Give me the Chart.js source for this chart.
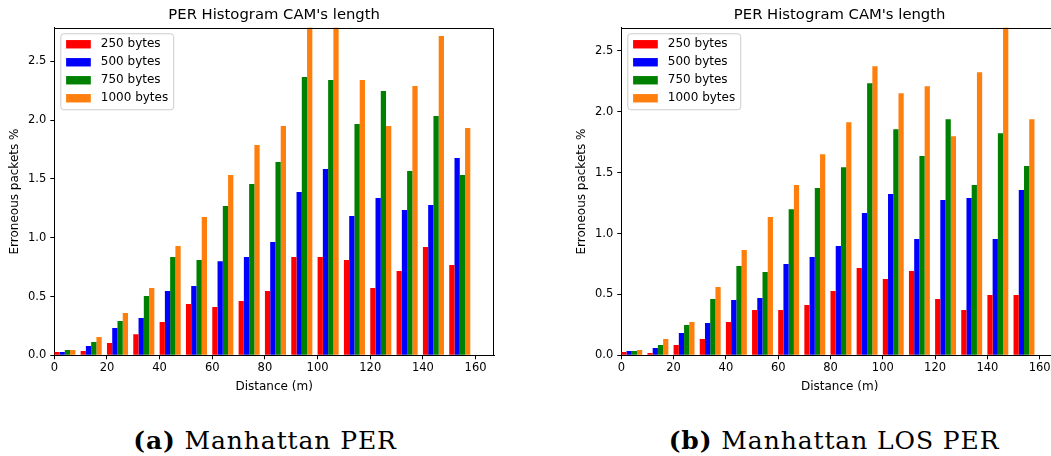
<!DOCTYPE html>
<html>
<head>
<meta charset="utf-8">
<title>PER Histogram CAM's length</title>
<script src="https://cdn.jsdelivr.net/npm/chart.js@4.4.1/dist/chart.umd.min.js"></script>
<style>
    html, body { margin: 0; padding: 0; background: #fff; }
    body { width: 1051px; height: 456px; overflow: hidden; position: relative; }
    canvas { position: absolute; top: 0; }
    #chartA { left: 0; }
    #chartB { left: 567px; }
    .caption {
        position: absolute; top: 426px; width: 500px; line-height: 30px;
        font-family: "DejaVu Serif", serif; font-size: 25px; letter-spacing: 0.9px;
        color: #000; text-align: center; white-space: nowrap;
    }
</style>
</head>
<body>
<canvas id="chartA" width="525" height="400"></canvas>
<canvas id="chartB" width="525" height="400"></canvas>
<div class="caption" style="left:15px"><b>(a)</b> Manhattan PER</div>
<div class="caption" style="left:584px"><b>(b)</b> Manhattan LOS PER</div>
<script>
// distance bins (m), 10 m wide
var distances = [0, 10, 20, 30, 40, 50, 60, 70, 80, 90, 100, 110, 120, 130, 140, 150];
var seriesLabels = ["250 bytes", "500 bytes", "750 bytes", "1000 bytes"];
var seriesColors = ["#ff0000", "#0000ff", "#008000", "#ff7f0e"];
var xTicks = [0, 20, 40, 60, 80, 100, 120, 140, 160];
var yTicks = [0, 0.5, 1.0, 1.5, 2.0, 2.5];

// (a) Manhattan PER
var per250 = [0.028, 0.037, 0.105, 0.18, 0.283, 0.437, 0.41, 0.462, 0.547, 0.836, 0.836, 0.81, 0.573, 0.717, 0.921, 0.768];
var per500 = [0.028, 0.079, 0.232, 0.317, 0.547, 0.59, 0.80, 0.836, 0.964, 1.389, 1.585, 1.185, 1.338, 1.236, 1.278, 1.678];
var per750 = [0.045, 0.113, 0.292, 0.505, 0.836, 0.81, 1.27, 1.457, 1.644, 2.367, 2.341, 1.967, 2.248, 1.567, 2.035, 1.533];
var per1000 = [0.045, 0.156, 0.36, 0.573, 0.93, 1.176, 1.533, 1.789, 1.95, 2.9, 2.95, 2.341, 1.95, 2.29, 2.715, 1.933];

// (b) Manhattan LOS PER
var los250 = [0.027, 0.019, 0.085, 0.134, 0.274, 0.372, 0.372, 0.413, 0.528, 0.717, 0.626, 0.692, 0.462, 0.372, 0.495, 0.495];
var los500 = [0.036, 0.06, 0.183, 0.265, 0.454, 0.47, 0.749, 0.807, 0.897, 1.168, 1.324, 0.955, 1.275, 1.291, 0.955, 1.357];
var los750 = [0.036, 0.085, 0.249, 0.462, 0.733, 0.684, 1.2, 1.373, 1.545, 2.235, 1.857, 1.636, 1.939, 1.398, 1.824, 1.554];
var los1000 = [0.044, 0.134, 0.274, 0.561, 0.864, 1.135, 1.398, 1.652, 1.915, 2.374, 2.153, 2.21, 1.8, 2.325, 2.8, 1.939];

var FONT = "'DejaVu Sans', sans-serif";
var binWidth = 10;

// legend box inside the plot + top/right spines, matplotlib style
var boxLegend = {
    id: "boxLegend",
    afterDatasetsDraw(chart) {
        var ctx = chart.ctx;
        var a = chart.chartArea;
        ctx.save();
        ctx.strokeStyle = "#000";
        ctx.lineWidth = 1;
        ctx.beginPath();
        ctx.moveTo(Math.round(a.left) + 0.5, Math.round(a.top) + 0.5);
        ctx.lineTo(Math.round(a.right) - 0.5, Math.round(a.top) + 0.5);
        ctx.lineTo(Math.round(a.right) - 0.5, Math.round(a.bottom));
        ctx.stroke();
        ctx.restore();
    },
    afterDraw(chart) {
        var ctx = chart.ctx;
        var a = chart.chartArea;
        var sets = chart.data.datasets;
        ctx.save();
        ctx.font = "12px " + FONT;
        var textW = 0;
        sets.forEach(function (ds) {
            textW = Math.max(textW, ctx.measureText(ds.label).width);
        });
        var x = a.left + 6.5;
        var y = a.top + 6;
        var w = 40 + textW + 5.5;
        var h = 76;
        ctx.beginPath();
        ctx.roundRect(x, y, w, h, 3);
        ctx.fillStyle = "rgba(255,255,255,0.8)";
        ctx.fill();
        ctx.strokeStyle = "#cccccc";
        ctx.lineWidth = 1;
        ctx.stroke();
        ctx.textBaseline = "middle";
        sets.forEach(function (ds, i) {
            var cy = y + 10.5 + i * 18;
            ctx.fillStyle = ds.backgroundColor;
            ctx.fillRect(x + 5.3, cy - 4.2, 24.7, 8.4);
            ctx.fillStyle = "#000";
            ctx.fillText(ds.label, x + 40, cy);
        });
        ctx.restore();
    },
};

function buildChart(id, series, yMax, rightPad) {
    var ctx = document.getElementById(id);
    return new Chart(ctx, {
        type: "bar",
        data: {
            datasets: series.map(function (values, i) {
                return {
                    label: seriesLabels[i],
                    // groups of 4 bars sit at the start of each bin
                    data: values.map(function (v, j) {
                        return { x: distances[j] + binWidth * 0.4, y: v };
                    }),
                    backgroundColor: seriesColors[i],
                    borderWidth: 0,
                    categoryPercentage: 0.8,
                    barPercentage: 1.0,
                };
            }),
        },
        options: {
            responsive: false,
            animation: false,
            events: [],
            layout: { padding: { left: 0, right: rightPad, top: 0, bottom: 0 } },
            plugins: {
                legend: { display: false },
                tooltip: { enabled: false },
                title: {
                    display: true,
                    text: "PER Histogram CAM's length",
                    color: "#000",
                    fullSize: false,
                    font: { family: FONT, size: 14.8, weight: "normal" },
                    padding: { top: 6.5, bottom: 3.5 },
                },
            },
            scales: {
                x: {
                    type: "linear",
                    min: 0,
                    max: 167,
                    offset: false,
                    grid: {
                        offset: false,
                        drawOnChartArea: false,
                        drawTicks: true,
                        tickLength: 4,
                        color: "#000",
                    },
                    border: { display: true, color: "#000", width: 1 },
                    ticks: {
                        color: "#000",
                        font: { family: FONT, size: 11.5 },
                        padding: 2,
                        maxRotation: 0,
                        autoSkip: false,
                    },
                    title: {
                        display: true,
                        text: "Distance (m)",
                        color: "#000",
                        font: { family: FONT, size: 12 },
                        padding: { top: 0, bottom: 6.3 },
                    },
                    afterBuildTicks: function (scale) {
                        scale.ticks = xTicks.map(function (v) { return { value: v }; });
                    },
                    afterFit: function (scale) {
                        scale.height = 44.7;
                    },
                },
                y: {
                    min: 0,
                    max: yMax,
                    grid: {
                        drawOnChartArea: false,
                        drawTicks: true,
                        tickLength: 4,
                        color: "#000",
                    },
                    border: { display: true, color: "#000", width: 1 },
                    ticks: {
                        color: "#000",
                        font: { family: FONT, size: 11.5 },
                        padding: 4,
                        autoSkip: false,
                        callback: function (v) { return v.toFixed(1); },
                    },
                    title: {
                        display: true,
                        text: "Erroneous packets %",
                        color: "#000",
                        font: { family: FONT, size: 12 },
                        padding: { top: 7.8, bottom: 0 },
                    },
                    afterBuildTicks: function (scale) {
                        scale.ticks = yTicks.map(function (v) { return { value: v }; });
                    },
                    afterFit: function (scale) {
                        scale.width = 54.3;
                    },
                },
            },
        },
        plugins: [boxLegend],
    });
}

buildChart("chartA", [per250, per500, per750, per1000], 2.786, 31);
buildChart("chartB", [los250, los500, los750, los1000], 2.69, 34);
</script>
</body>
</html>
